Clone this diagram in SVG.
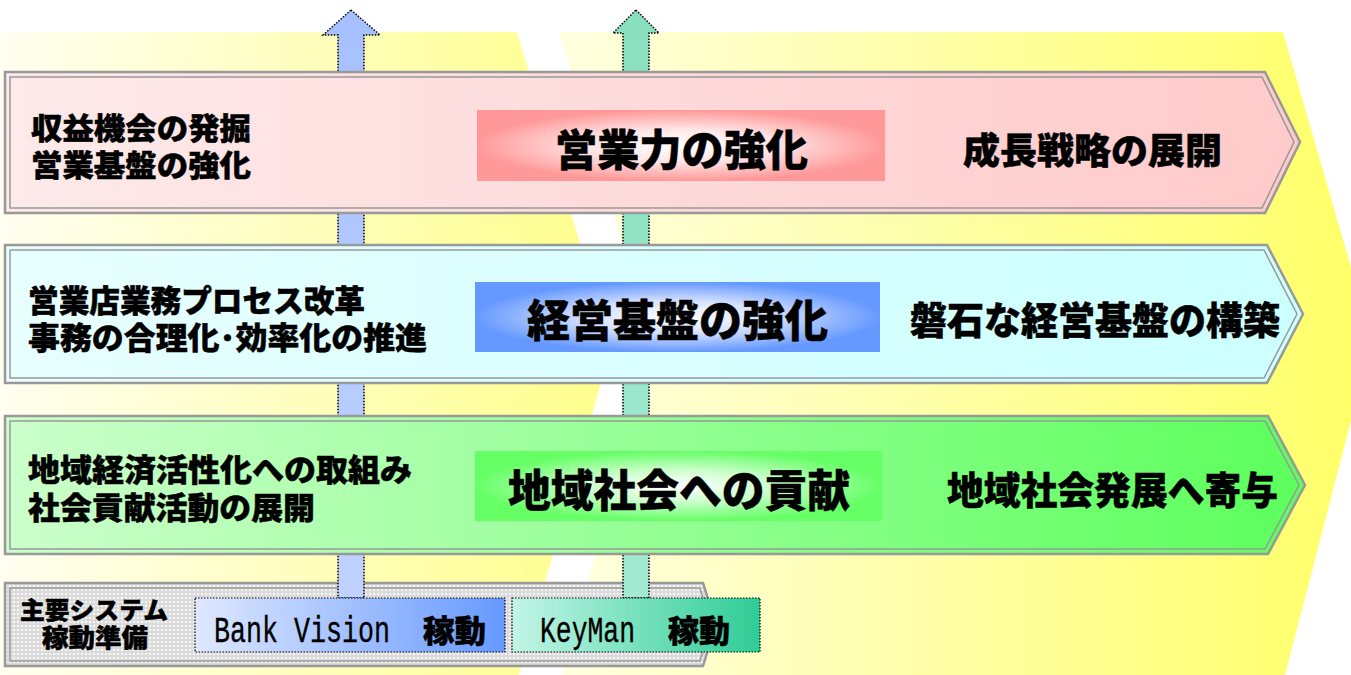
<svg xmlns="http://www.w3.org/2000/svg" width="1351" height="675" viewBox="0 0 1351 675">
<defs>
  <linearGradient id="bgL" gradientUnits="userSpaceOnUse" x1="0" y1="0" x2="611" y2="0">
    <stop offset="0" stop-color="#fffef0"/><stop offset="1" stop-color="#ffff8c"/>
  </linearGradient>
  <linearGradient id="bgR" gradientUnits="userSpaceOnUse" x1="560" y1="0" x2="1370" y2="0">
    <stop offset="0" stop-color="#ffffe0"/><stop offset="1" stop-color="#ffff66"/>
  </linearGradient>
  <linearGradient id="r1" gradientUnits="userSpaceOnUse" x1="5" y1="0" x2="1300" y2="0">
    <stop offset="0" stop-color="#fdeaea"/><stop offset="1" stop-color="#ffcaca"/>
  </linearGradient>
  <linearGradient id="r2" gradientUnits="userSpaceOnUse" x1="5" y1="0" x2="1303" y2="0">
    <stop offset="0" stop-color="#e8ffff"/><stop offset="1" stop-color="#ccffff"/>
  </linearGradient>
  <linearGradient id="r3" gradientUnits="userSpaceOnUse" x1="5" y1="0" x2="1305" y2="0">
    <stop offset="0" stop-color="#ccffcc"/><stop offset="1" stop-color="#5cff5c"/>
  </linearGradient>
  <radialGradient id="g1" cx="0.5" cy="0.5" r="0.5">
    <stop offset="0" stop-color="#ffffff"/><stop offset="0.45" stop-color="#ffe6e6"/><stop offset="1" stop-color="#ff9999"/>
  </radialGradient>
  <radialGradient id="g2" cx="0.5" cy="0.5" r="0.5">
    <stop offset="0" stop-color="#ffffff"/><stop offset="0.45" stop-color="#d6e2ff"/><stop offset="1" stop-color="#6699ff"/>
  </radialGradient>
  <radialGradient id="g3" cx="0.5" cy="0.5" r="0.5">
    <stop offset="0" stop-color="#ffffff"/><stop offset="0.45" stop-color="#ccffcc"/><stop offset="1" stop-color="#66ff66"/>
  </radialGradient>
  <linearGradient id="bv" x1="0" y1="0" x2="1" y2="0">
    <stop offset="0" stop-color="#dfe8ff"/><stop offset="1" stop-color="#6699ff"/>
  </linearGradient>
  <linearGradient id="km" x1="0" y1="0" x2="1" y2="0">
    <stop offset="0" stop-color="#c2f5e6"/><stop offset="1" stop-color="#2fcc96"/>
  </linearGradient>
  <linearGradient id="arB" x1="0" y1="0" x2="0" y2="1">
    <stop offset="0" stop-color="#a6c0ff"/><stop offset="1" stop-color="#c0d2ff"/>
  </linearGradient>
  <linearGradient id="arG" x1="0" y1="0" x2="0" y2="1">
    <stop offset="0" stop-color="#88e0c0"/><stop offset="1" stop-color="#a2ead2"/>
  </linearGradient>
  <pattern id="dots" width="4" height="4" patternUnits="userSpaceOnUse">
    <rect width="4" height="4" fill="#d9d9d9"/><circle cx="2" cy="2" r="1.3" fill="#f5f5f5"/>
  </pattern>
</defs>
<style>
  .jp{font-family:"Liberation Sans","Noto Sans CJK JP",sans-serif;font-weight:900;fill:#000;stroke:#000;stroke-width:0.5}
  .mono{font-family:"Liberation Mono","DejaVu Sans Mono",monospace;fill:#000;stroke:#000;stroke-width:0.3}
  .fo{stroke:#999999;stroke-width:2.5}
  .fi{fill:none;stroke:#999999;stroke-width:1.5}
  .arrow{stroke:#000;stroke-width:1.5;stroke-dasharray:1.5 1.5}
  .sys{stroke:#000;stroke-width:1.2;stroke-dasharray:1.5 1.5}
</style>

<g id="background">
  <polygon points="0,32 517,32 611,347 519,675 0,675" fill="url(#bgL)"/>
  <polygon points="559,32 1283,32 1372,340 1285,675 562,675 653,347" fill="url(#bgR)"/>
</g>

<g id="system-bar">
  <polygon class="fo" points="5,583 703,583 716,624 703,666 5,666" fill="url(#dots)"/>
  <polygon class="fi" points="10,588 700,588 711,624 700,661 10,661"/>
  <text class="jp" font-size="24" x="20" y="619" textLength="148" lengthAdjust="spacingAndGlyphs">主要システム</text>
  <text class="jp" font-size="25" x="42" y="647" textLength="106" lengthAdjust="spacingAndGlyphs">稼動準備</text>
</g>

<g id="connectors">
  <polygon class="arrow" points="351,10 380,35 364,35 364,598 338,598 338,35 323,35" fill="url(#arB)"/>
  <polygon class="arrow" points="636,10 659,33 649,33 649,598 623,598 623,33 613,33" fill="url(#arG)"/>
</g>

<g id="bank-vision">
  <rect class="sys" x="195" y="598" width="310" height="54" fill="url(#bv)"/>
  <text class="mono" font-size="30" transform="translate(214,642) scale(1,1.2)" x="0" y="0" textLength="176" lengthAdjust="spacingAndGlyphs">Bank Vision</text>
  <text class="jp" font-size="31" x="423" y="642" textLength="63" lengthAdjust="spacingAndGlyphs">稼動</text>
</g>

<g id="keyman">
  <rect class="sys" x="512" y="598" width="248" height="54" fill="url(#km)"/>
  <text class="mono" font-size="30" transform="translate(540,642) scale(1,1.2)" x="0" y="0" textLength="95" lengthAdjust="spacingAndGlyphs">KeyMan</text>
  <text class="jp" font-size="31" x="668" y="642" textLength="62" lengthAdjust="spacingAndGlyphs">稼動</text>
</g>

<g id="row-sales">
  <polygon class="fo" points="5,72 1265,72 1300,142 1265,213 5,213" fill="url(#r1)"/>
  <polygon class="fi" points="10,77 1262,77 1294,142 1262,208 10,208"/>
  <text class="jp" font-size="30" x="31" y="139" textLength="220" lengthAdjust="spacingAndGlyphs">収益機会の発掘</text>
  <text class="jp" font-size="30" x="31" y="176" textLength="220" lengthAdjust="spacingAndGlyphs">営業基盤の強化</text>
  <rect x="477" y="110" width="408" height="71" fill="url(#g1)"/>
  <text class="jp" font-size="43" x="555" y="166" textLength="253" lengthAdjust="spacingAndGlyphs">営業力の強化</text>
  <text class="jp" font-size="36" x="963" y="164" textLength="259" lengthAdjust="spacingAndGlyphs">成長戦略の展開</text>
</g>

<g id="row-management">
  <polygon class="fo" points="5,245 1267,245 1303,314 1267,383 5,383" fill="url(#r2)"/>
  <polygon class="fi" points="10,250 1264,250 1297,314 1264,378 10,378"/>
  <text class="jp" font-size="31" x="28" y="312" textLength="337" lengthAdjust="spacingAndGlyphs">営業店業務プロセス改革</text>
  <text class="jp" font-size="31" x="28" y="349" textLength="399" lengthAdjust="spacingAndGlyphs">事務の合理化･効率化の推進</text>
  <rect x="475" y="282" width="405" height="70" fill="url(#g2)"/>
  <text class="jp" font-size="44" x="527" y="337" textLength="301" lengthAdjust="spacingAndGlyphs">経営基盤の強化</text>
  <text class="jp" font-size="38" x="910" y="334" textLength="370" lengthAdjust="spacingAndGlyphs">磐石な経営基盤の構築</text>
</g>

<g id="row-community">
  <polygon class="fo" points="5,416 1268,416 1305,485 1268,554 5,554" fill="url(#r3)"/>
  <polygon class="fi" points="10,421 1265,421 1299,485 1265,549 10,549"/>
  <text class="jp" font-size="31" x="28" y="481" textLength="384" lengthAdjust="spacingAndGlyphs">地域経済活性化への取組み</text>
  <text class="jp" font-size="31" x="28" y="519" textLength="287" lengthAdjust="spacingAndGlyphs">社会貢献活動の展開</text>
  <rect x="475" y="451" width="407" height="70" fill="url(#g3)"/>
  <text class="jp" font-size="44" x="508" y="507" textLength="342" lengthAdjust="spacingAndGlyphs">地域社会への貢献</text>
  <text class="jp" font-size="38" x="947" y="504" textLength="331" lengthAdjust="spacingAndGlyphs">地域社会発展へ寄与</text>
</g>
</svg>
